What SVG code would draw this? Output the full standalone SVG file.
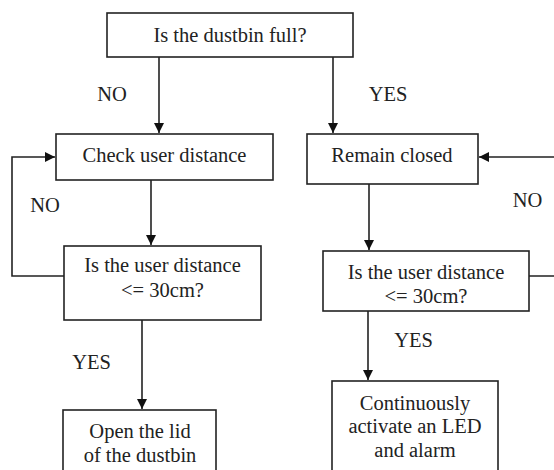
<svg xmlns="http://www.w3.org/2000/svg" width="554" height="470" viewBox="0 0 554 470">
<defs>
<style>
.box{fill:#fff;stroke:#222;stroke-width:1.6}
.t{font-family:'Liberation Serif','Times New Roman',Times,Tinos,'Noto Serif','DejaVu Serif',FreeSerif,serif;font-size:20.5px;fill:#222;text-anchor:middle}
.c{fill:none;stroke:#222;stroke-width:1.6}
</style>
<marker id="ah" viewBox="0 0 10 10" refX="10" refY="5" markerWidth="10" markerHeight="10" markerUnits="userSpaceOnUse" orient="auto">
<path d="M0,0 L10,5 L0,10 z" fill="#111"/>
</marker>
</defs>
<rect width="554" height="470" fill="#fff"/>
<g id="connectors">
<path class="c" d="M159,57 V133" marker-end="url(#ah)"/>
<path class="c" d="M333,57 V133" marker-end="url(#ah)"/>
<path class="c" d="M151,180 V245" marker-end="url(#ah)"/>
<path class="c" d="M64,276 H12 V157 H55" marker-end="url(#ah)"/>
<path class="c" d="M142,320 V409" marker-end="url(#ah)"/>
<path class="c" d="M369,184 V250" marker-end="url(#ah)"/>
<path class="c" d="M529,276 H562 V157 H479" marker-end="url(#ah)"/>
<path class="c" d="M368,311 V380" marker-end="url(#ah)"/>
<text class="t" x="112" y="101">NO</text>
<text class="t" x="388" y="101">YES</text>
<text class="t" x="45" y="212">NO</text>
<text class="t" x="527.5" y="207">NO</text>
<text class="t" x="91.5" y="369">YES</text>
<text class="t" x="413.5" y="347">YES</text>
</g>
<g id="full">
<rect class="box" x="107" y="13" width="246" height="44"/>
<text class="t" x="230" y="42">Is the dustbin full?</text>
</g>
<g id="check">
<rect class="box" x="56" y="134" width="217" height="46"/>
<text class="t" x="164.5" y="162">Check user distance</text>
</g>
<g id="remain">
<rect class="box" x="307" y="134" width="171" height="50"/>
<text class="t" x="392" y="162">Remain closed</text>
</g>
<g id="decisionL">
<rect class="box" x="64" y="246" width="197" height="74"/>
<text class="t" x="162.5" y="272">Is the user distance</text>
<text class="t" x="162.5" y="297">&lt;= 30cm?</text>
</g>
<g id="decisionR">
<rect class="box" x="323" y="251" width="206" height="60"/>
<text class="t" x="426" y="279">Is the user distance</text>
<text class="t" x="426" y="303">&lt;= 30cm?</text>
</g>
<g id="open">
<rect class="box" x="63" y="410" width="153" height="70"/>
<text class="t" x="140" y="438">Open the lid</text>
<text class="t" x="140" y="462">of the dustbin</text>
</g>
<g id="alarm">
<rect class="box" x="332" y="381" width="166" height="100"/>
<text class="t" x="415" y="410">Continuously</text>
<text class="t" x="415" y="433">activate an LED</text>
<text class="t" x="415" y="457">and alarm</text>
</g>
</svg>
